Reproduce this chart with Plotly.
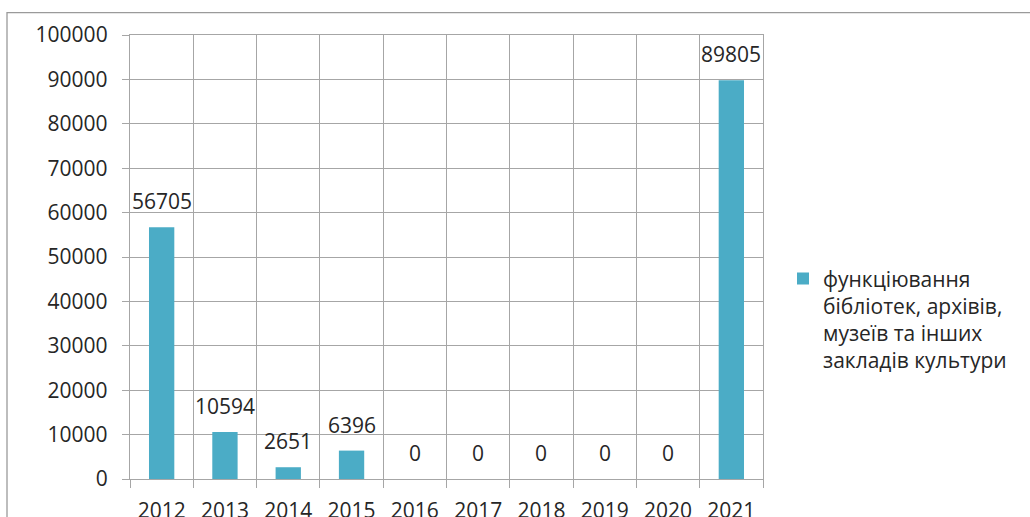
import plotly.graph_objects as go

years = ["2012", "2013", "2014", "2015", "2016", "2017", "2018", "2019", "2020", "2021"]
values = [56705, 10594, 2651, 6396, 0, 0, 0, 0, 0, 89805]
series_name = "функціювання<br>бібліотек, архівів,<br>музеїв та інших<br>закладів культури"
y_ticks = [0, 10000, 20000, 30000, 40000, 50000, 60000, 70000, 80000, 90000, 100000]

FONT = "Open Sans"
TXT = "#262626"
GRID = "#a6a6a6"
BAR = "#4BACC6"
FS = 21

fig = go.Figure()
fig.add_trace(go.Bar(
    x=years, y=values, name=series_name,
    marker=dict(color=BAR, line=dict(width=0)),
    showlegend=True,
))

for i, v in enumerate(values):
    fig.add_annotation(x=i, y=v, text=str(v), showarrow=False,
                       yanchor="middle", yshift=26,
                       font=dict(family=FONT, size=FS, color=TXT))

# plot area in page pixels
L, R, T, B = 130, 763, 34.5, 479
def px_x(p): return (p - L) / (R - L)
def px_y(p): return (B - p) / (B - T)

# outer chart border
fig.add_shape(type="rect", xref="paper", yref="paper",
              x0=px_x(7), x1=px_x(1045), y0=px_y(12), y1=px_y(540),
              line=dict(color="#9a9a9a", width=1.3), fillcolor="rgba(0,0,0,0)", layer="below")

fig.update_layout(
    width=1030, height=517,
    margin=dict(l=L, r=1030 - R, t=T, b=517 - B, autoexpand=False),
    paper_bgcolor="white", plot_bgcolor="white",
    bargap=0.6,
    font=dict(family=FONT, size=FS, color=TXT),
    legend=dict(x=px_x(783), y=px_y(258), xanchor="left", yanchor="top",
                valign="top", font=dict(family=FONT, size=FS, color=TXT),
                bgcolor="rgba(0,0,0,0)", itemwidth=30, tracegroupgap=0),
    xaxis=dict(type="category", range=[-0.5, len(years) - 0.5], tickson="boundaries",
               showgrid=True, gridcolor=GRID,
               gridwidth=1.3, ticks="outside", ticklen=8, tickcolor=GRID, tickwidth=1.3,
               showline=True, linecolor=GRID, linewidth=1.3, mirror=True,
               tickangle=0,
               tickfont=dict(family=FONT, size=FS, color=TXT), automargin=False,
               ticklabelstandoff=13),
    yaxis=dict(range=[0, 100000], tickvals=y_ticks, ticktext=[str(t) for t in y_ticks],
               showgrid=True, gridcolor=GRID, gridwidth=1.3, zeroline=False,
               ticks="outside", ticklen=7, tickcolor=GRID, tickwidth=1.3,
               showline=True, linecolor=GRID, linewidth=1.3, mirror=True,
               tickfont=dict(family=FONT, size=FS, color=TXT), automargin=False,
               ticklabelstandoff=10),
)

fig.write_html("out.html", config={"displayModeBar": False},
               post_script="document.body.style.margin='0';")
